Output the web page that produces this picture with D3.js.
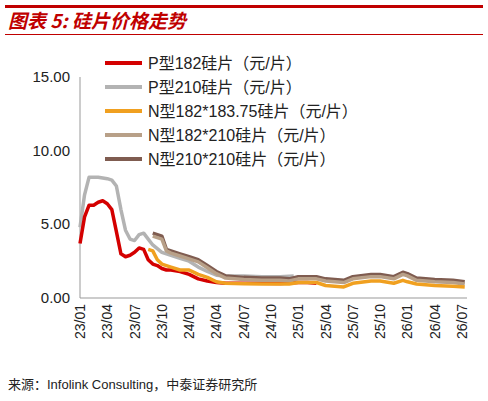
<!DOCTYPE html>
<html lang="zh">
<head>
<meta charset="UTF-8">
<script src="https://d3js.org/d3.v7.min.js"></script>
<style>
  body { margin: 0; background: #fff; font-family: "Liberation Sans", Arial, "Noto Sans CJK SC", sans-serif; }
</style>
</head>
<body>
<svg id="chart" width="488" height="401"></svg>
<script>
// months since 2023/01
const tickLabels = ["23/01","23/04","23/07","23/10","24/01","24/04","24/07","24/10","25/01","25/04","25/07","25/10","26/01","26/04","26/07"];
const seriesNames = ["P型182硅片（元/片）","P型210硅片（元/片）","N型182*183.75硅片（元/片）","N型182*210硅片（元/片）","N型210*210硅片（元/片）"];
const colors = ["#d40000","#b3b3b3","#f0a020","#b8a088","#7f5c50"];

const p182 = [[0,3.7],[0.5,5.5],[1,6.3],[1.5,6.3],[2,6.5],[2.5,6.6],[3,6.4],[3.5,6.0],[4,4.5],[4.5,3.0],[5,2.8],[5.5,2.9],[6,3.1],[6.5,3.4],[7,3.3],[7.5,2.6],[8,2.3],[8.5,2.2],[9,2.0],[9.5,1.9],[10,1.9],[11,1.8],[12,1.6],[13,1.3],[14,1.15],[15,1.05],[16,1.0],[18,1.0],[20,1.0],[22,0.98],[24,1.05],[25,1.05],[26,1.0]];
const p210 = [[0,4.8],[0.5,7.0],[1,8.2],[2,8.2],[3,8.1],[3.5,8.0],[4,7.6],[4.5,6.0],[5,4.6],[5.5,4.0],[6,3.9],[6.5,4.3],[7,4.4],[7.5,4.0],[8,3.6],[9,3.1],[10,2.9],[11,2.7],[12,2.5],[13,2.1],[14,1.8],[15,1.55],[16,1.5],[18,1.5],[20,1.45],[22,1.45],[23.5,1.5]];
const n18375 = [[7.5,3.3],[8,3.2],[8.5,2.6],[9,2.3],[10,2.1],[11,1.9],[12,1.9],[13,1.6],[14,1.4],[15,1.1],[16,1.0],[18,0.97],[20,0.95],[22,0.95],[23,0.95],[24,1.05],[26,1.05],[27,0.85],[29,0.75],[30,1.0],[32,1.15],[33,1.15],[34.5,1.0],[35.5,1.2],[36,1.1],[37,0.95],[39,0.85],[41,0.8],[42.3,0.75]];
const n182210 = [[8,4.2],[9,4.0],[9.5,3.2],[10,3.05],[11,2.85],[12,2.65],[13,2.45],[14,2.05],[15,1.65],[16,1.35],[18,1.25],[20,1.2],[22,1.2],[23,1.15],[24,1.3],[26,1.3],[27,1.15],[29,1.05],[30,1.3],[32,1.45],[33,1.45],[34.5,1.3],[35.5,1.6],[36,1.5],[37,1.2],[39,1.1],[41,1.05],[42.3,0.95]];
const n210210 = [[8,4.4],[9,4.2],[9.5,3.3],[10,3.2],[11,3.0],[12,2.8],[13,2.6],[14,2.2],[15,1.8],[16,1.5],[18,1.4],[20,1.35],[22,1.35],[23,1.3],[24,1.45],[26,1.45],[27,1.3],[29,1.2],[30,1.45],[32,1.6],[33,1.6],[34.5,1.45],[35.5,1.75],[36,1.65],[37,1.35],[39,1.25],[41,1.2],[42.3,1.1]];
const seriesData = [p182, p210, n18375, n182210, n210210];
const drawOrder = [1, 0, 4, 3, 2];
const yTicks = [0, 5, 10, 15];

const svg = d3.select("#chart");

// title block
svg.append("rect").attr("x", 5).attr("y", 5).attr("width", 478).attr("height", 3).attr("fill", "#c00000");
svg.append("rect").attr("x", 5).attr("y", 34).attr("width", 478).attr("height", 1).attr("fill", "#c00000");
svg.append("text").attr("x", 8).attr("y", 28).attr("fill", "#c00000")
  .attr("font-size", 19).attr("font-weight", "bold").attr("font-style", "italic")
  .attr("font-family", "Noto Sans CJK SC, sans-serif").text("图表 5:  硅片价格走势");

const x = d3.scaleLinear().domain([0, 42]).range([80, 462]);
const y = d3.scaleLinear().domain([0, 15]).range([298, 77]);

svg.append("line").attr("x1", 80).attr("x2", 80).attr("y1", 77).attr("y2", 298).attr("stroke", "#999");
svg.append("line").attr("x1", 80).attr("x2", 467).attr("y1", 298).attr("y2", 298).attr("stroke", "#999");

svg.selectAll(".yl").data(yTicks).enter().append("text")
  .attr("x", 70).attr("y", d => y(d) + 5).attr("text-anchor", "end")
  .attr("font-size", 15).attr("fill", "#222").text(d => d.toFixed(2));

svg.selectAll(".xl").data(tickLabels).enter().append("text")
  .attr("transform", (d, i) => `translate(${x(i * 3) + 5},304) rotate(-90)`)
  .attr("text-anchor", "end").attr("font-size", 14).attr("fill", "#222").text(d => d);

const line = d3.line().x(d => x(d[0])).y(d => y(d[1]));
drawOrder.forEach(i => {
  svg.append("path").attr("d", line(seriesData[i])).attr("fill", "none")
    .attr("stroke", colors[i]).attr("stroke-width", 3.5).attr("stroke-linejoin", "round");
});

// legend
seriesNames.forEach((n, i) => {
  const ly = 63 + i * 24;
  svg.append("line").attr("x1", 105).attr("x2", 142).attr("y1", ly).attr("y2", ly)
    .attr("stroke", colors[i]).attr("stroke-width", 4);
  svg.append("text").attr("x", 148).attr("y", ly + 6).attr("font-size", 16).attr("fill", "#222")
    .attr("font-family", "Liberation Sans, Noto Sans CJK SC, sans-serif").text(n);
});

svg.append("text").attr("x", 8).attr("y", 389).attr("font-size", 13).attr("fill", "#222")
  .attr("font-family", "Liberation Sans, Noto Sans CJK SC, sans-serif")
  .text("来源：Infolink Consulting，中泰证券研究所");
</script>
</body>
</html>
